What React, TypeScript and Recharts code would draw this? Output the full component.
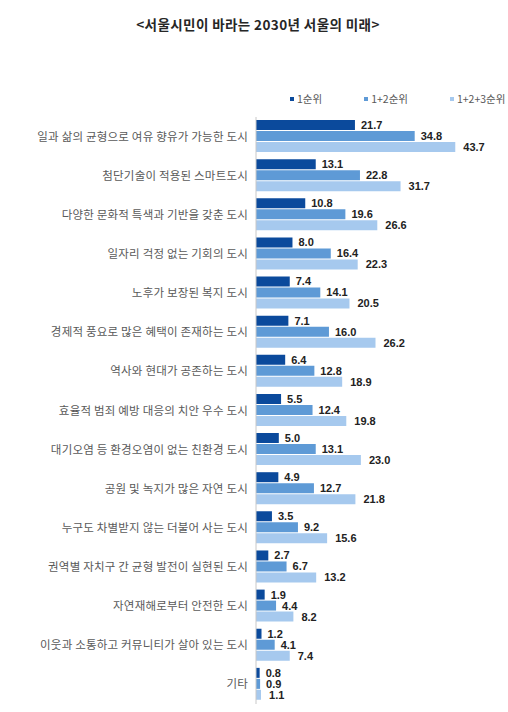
import React from 'react';
import { BarChart, Bar, XAxis, YAxis, Legend, LabelList } from 'recharts';

const categories = [
  '일과 삶의 균형으로 여유 향유가 가능한 도시',
  '첨단기술이 적용된 스마트도시',
  '다양한 문화적 특색과 기반을 갖춘 도시',
  '일자리 걱정 없는 기회의 도시',
  '노후가 보장된 복지 도시',
  '경제적 풍요로 많은 혜택이 존재하는 도시',
  '역사와 현대가 공존하는 도시',
  '효율적 범죄 예방 대응의 치안 우수 도시',
  '대기오염 등 환경오염이 없는 친환경 도시',
  '공원 및 녹지가 많은 자연 도시',
  '누구도 차별받지 않는 더불어 사는 도시',
  '권역별 자치구 간 균형 발전이 실현된 도시',
  '자연재해로부터 안전한 도시',
  '이웃과 소통하고 커뮤니티가 살아 있는 도시',
  '기타',
];

const rank1 = [21.7, 13.1, 10.8, 8.0, 7.4, 7.1, 6.4, 5.5, 5.0, 4.9, 3.5, 2.7, 1.9, 1.2, 0.8];
const rank12 = [34.8, 22.8, 19.6, 16.4, 14.1, 16.0, 12.8, 12.4, 13.1, 12.7, 9.2, 6.7, 4.4, 4.1, 0.9];
const rank123 = [43.7, 31.7, 26.6, 22.3, 20.5, 26.2, 18.9, 19.8, 23.0, 21.8, 15.6, 13.2, 8.2, 7.4, 1.1];

const seriesNames = ['1순위', '1+2순위', '1+2+3순위'];
const colors = ['#0b4a9c', '#5e9ad6', '#a6c9ee'];

const data = categories.map((name, i) => ({
  name,
  r1: rank1[i],
  r12: rank12[i],
  r123: rank123[i],
}));

const korFont = '"Noto Sans CJK KR", "Noto Sans", sans-serif';
const numFont = '"Liberation Sans", Arial, sans-serif';

// legend payload comes back reversed in vertical layout, so sort by series order
const renderLegend = (props: any) => {
  const items = [...(props.payload || [])].sort(
    (a: any, b: any) => seriesNames.indexOf(a.value) - seriesNames.indexOf(b.value)
  );
  return (
    <div
      style={{
        display: 'flex',
        height: 14,
        lineHeight: '14px',
        whiteSpace: 'nowrap',
        fontFamily: korFont,
        fontSize: 10.5,
        color: '#595959',
      }}
    >
      {items.map((p: any, i: number) => (
        <div key={i} style={{ display: 'flex', alignItems: 'center', marginRight: 42 }}>
          <span style={{ width: 4, height: 4, background: p.color, marginRight: 3, display: 'inline-block' }} />
          <span>{p.value}</span>
        </div>
      ))}
    </div>
  );
};

const CategoryTick = (props: any) => {
  const { x, y, payload } = props;
  return (
    <text x={x} y={y} dy={4} textAnchor="end" fontFamily={korFont} fontSize={11.5} fill="#595959" letterSpacing={0.2}>
      {payload.value}
    </text>
  );
};

const labelStyle = { fontFamily: numFont, fontSize: 11, fontWeight: 'bold' as const, fill: '#222' };
const fmt = (v: any) => Number(v).toFixed(1);

export default function App() {
  return (
    <div style={{ position: 'absolute', left: 0, top: 0, width: 508, height: 712, background: '#fff' }}>
      <div
        style={{
          position: 'absolute',
          top: 14,
          left: 0,
          width: 516,
          textAlign: 'center',
          fontFamily: korFont,
          fontWeight: 'bold',
          fontSize: 13.5,
          color: '#262626',
          letterSpacing: 0.4,
        }}
      >
        {'<서울시민이 바라는 2030년 서울의 미래>'}
      </div>
      <BarChart
        width={508}
        height={712}
        data={data}
        layout="vertical"
        margin={{ top: 103, right: 24, bottom: 8, left: 0 }}
        barCategoryGap={3}
        barGap={1}
      >
        <XAxis type="number" domain={[0, 50]} hide />
        <YAxis
          type="category"
          dataKey="name"
          width={256}
          tickLine={false}
          axisLine={{ stroke: '#c8c8c8' }}
          interval={0}
          tick={<CategoryTick />}
        />
        <Legend
          verticalAlign="top"
          content={renderLegend}
          wrapperStyle={{ top: 92, left: 290, width: 220 }}
        />
        <Bar dataKey="r1" name={seriesNames[0]} fill={colors[0]} isAnimationActive={false}>
          <LabelList dataKey="r1" position="right" offset={6} formatter={fmt} style={labelStyle} />
        </Bar>
        <Bar dataKey="r12" name={seriesNames[1]} fill={colors[1]} isAnimationActive={false}>
          <LabelList dataKey="r12" position="right" offset={6} formatter={fmt} style={labelStyle} />
        </Bar>
        <Bar dataKey="r123" name={seriesNames[2]} fill={colors[2]} isAnimationActive={false}>
          <LabelList dataKey="r123" position="right" offset={8} formatter={fmt} style={labelStyle} />
        </Bar>
      </BarChart>
    </div>
  );
}
